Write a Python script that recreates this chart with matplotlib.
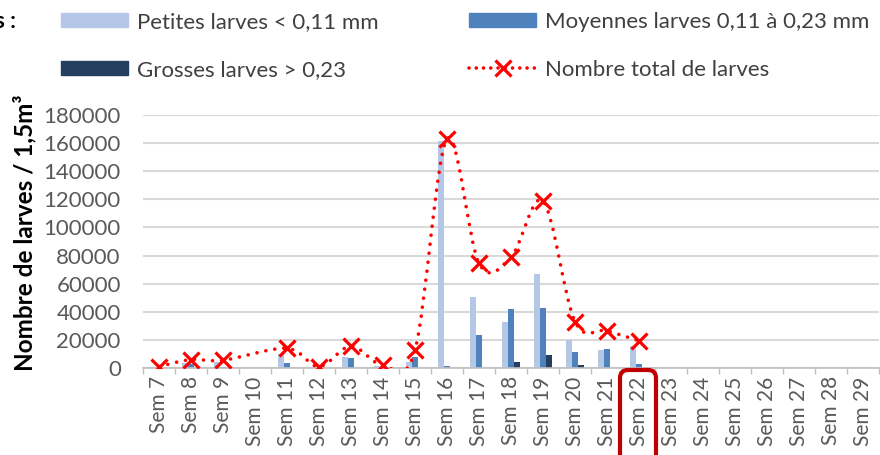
import matplotlib
matplotlib.use('Agg')
import matplotlib.pyplot as plt
import matplotlib.patches as patches
from matplotlib.path import Path
from matplotlib.lines import Line2D
from matplotlib.transforms import IdentityTransform
import numpy as np

plt.rcParams['font.family'] = ['Lato', 'DejaVu Sans']

# Données (lecture du graphique)
semaines = ['Sem %d' % s for s in range(7, 30)]
petites = [0, 3500, 4400, np.nan, 9800, 800, 7800, 1500, 4200, 161400,
           50700, 32700, 67200, 19900, 12800, 15600]
moyennes = [0, 2500, 1000, np.nan, 3400, 0, 7100, 0, 7800, 1400,
            23200, 42100, 42800, 11400, 13300, 3100]
grosses = [0, 0, 0, np.nan, 0, 0, 0, 0, 0, 0,
           0, 4500, 9000, 1900, 0, 0]
total = [1000, 6000, 5500, np.nan, 14000, 1000, 15600, 1800, 12800, 163000,
         74500, 78800, 118800, 33000, 26500, 19400]

# Couleurs
c_pet = '#b4c7e7'
c_moy = '#4f81bd'
c_gro = '#243f60'
c_tot = '#ff0000'
c_txt = '#595959'

fig = plt.figure(figsize=(8.8, 4.55), dpi=100)
ax = fig.add_axes([143/880, 87/455, 736/880, 253/455])

x = np.arange(len(semaines))
n = len(total)
w = 0.19
ax.bar(x[:n] - w, petites, w, color=c_pet, zorder=2)
ax.bar(x[:n], moyennes, w, color=c_moy, zorder=2)
ax.bar(x[:n] + w, grosses, w, color=c_gro, zorder=2)

# Courbe lissée (style Excel) à travers les points valides
xv = np.array([xi for xi, t in zip(x[:n], total) if not np.isnan(t)], float)
yv = np.array([t for t in total if not np.isnan(t)], float)
pts = np.column_stack([xv, yv])
verts = [pts[0]]
codes = [Path.MOVETO]
for i in range(len(pts) - 1):
    p0 = pts[i - 1] if i > 0 else pts[i]
    p1, p2 = pts[i], pts[i + 1]
    p3 = pts[i + 2] if i + 2 < len(pts) else p2
    verts += [p1 + (p2 - p0) / 6, p2 - (p3 - p1) / 6, p2]
    codes += [Path.CURVE4] * 3
ax.add_patch(patches.PathPatch(Path(verts, codes), fill=False, edgecolor=c_tot,
                               lw=2.6, linestyle=(0, (0.01, 2.5)), capstyle='round',
                               zorder=3))
ax.plot(xv, yv, linestyle='none', marker='x', markersize=12, mew=2.3,
        color=c_tot, zorder=4)

# Axes
ax.set_xlim(-0.5, len(semaines) - 0.5)
ax.set_ylim(0, 180000)
ax.set_yticks(np.arange(0, 180001, 20000))
ax.set_xticks(x)
ax.set_xticklabels(semaines, rotation=90)
ax.set_xticks(np.arange(-0.5, len(semaines), 1), minor=True)
ax.tick_params(axis='x', which='major', length=0, pad=6, labelsize=15, colors=c_txt)
ax.tick_params(axis='x', which='minor', length=4.5, width=1, color='#bfbfbf')
ax.tick_params(axis='y', length=0, pad=16, labelsize=16, colors=c_txt)
ax.yaxis.grid(True, color='#d9d9d9', lw=1.5, zorder=0)
ax.set_axisbelow(True)
for s in ['left', 'top', 'right']:
    ax.spines[s].set_visible(False)
ax.spines['bottom'].set_color('#bfbfbf')
ax.spines['bottom'].set_linewidth(1.2)

# Titre de l'axe Y
fig.text(25/880, 1 - 233/455, 'Nombre de larves / 1,5m³', rotation=90,
         ha='center', va='center', fontsize=17.5, fontweight='bold', color='black')
fig.text(-0.006, 1 - 22/455, 's :', ha='left', va='center', fontsize=16,
         fontweight='bold', color='black')

# Légende
handles = [
    patches.Patch(color=c_pet, label='Petites larves < 0,11 mm'),
    patches.Patch(color=c_gro, label='Grosses larves > 0,23'),
    patches.Patch(color=c_moy, label='Moyennes larves 0,11 à 0,23 mm'),
    Line2D([], [], color=c_tot, lw=2.6, linestyle=(0, (0.01, 2.0)),
           dash_capstyle='round', marker='x', markersize=12, mew=2.3,
           label='Nombre total de larves'),
]
fig.legend(handles=handles, ncol=2, loc='upper left',
           bbox_to_anchor=(61/880, 1 - 12/455), frameon=False,
           fontsize=16, handlelength=3.0, handleheight=0.6, handletextpad=0.4,
           columnspacing=4.1, labelspacing=1.25, borderpad=0, borderaxespad=0,
           labelcolor='#404040')

# Encadré rouge autour de Sem 22
fig.add_artist(patches.FancyBboxPatch((620, -20), 36, 105,
                                      boxstyle='round,pad=0,rounding_size=8',
                                      transform=IdentityTransform(), fill=False,
                                      edgecolor='#c00000', lw=3))

fig.savefig('out.png', dpi=100)
